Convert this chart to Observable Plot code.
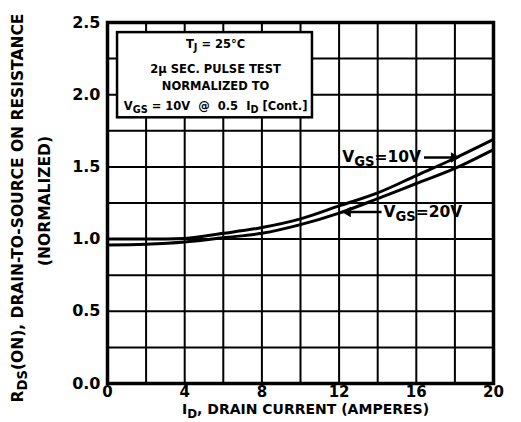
<!DOCTYPE html>
<html><head><meta charset="utf-8">
<script src="https://cdn.jsdelivr.net/npm/d3@7"></script>
<script src="https://cdn.jsdelivr.net/npm/@observablehq/plot@0.6"></script>
<style>
html,body{margin:0;padding:0;background:#fff;}
#chart svg{display:block;}
</style>
</head><body><div id="chart"></div>
<script>
// ---- data ----
const currents = [0, 2, 4, 6, 8, 10, 12, 14, 16, 18, 20];
const rdsVgs10 = [1.00, 1.00, 1.005, 1.04, 1.08, 1.14, 1.23, 1.32, 1.44, 1.56, 1.69];
const rdsVgs20 = [0.96, 0.965, 0.98, 1.01, 1.04, 1.10, 1.18, 1.28, 1.385, 1.49, 1.62];
const seriesLabels = ["V{GS}=10V", "V{GS}=20V"];
const xTicks = [0, 4, 8, 12, 16, 20];
const yTicks = [0, 0.5, 1.0, 1.5, 2.0, 2.5];
const xGrid = [0, 2, 4, 6, 8, 10, 12, 14, 16, 18, 20];
const yGrid = [0, 0.25, 0.5, 0.75, 1.0, 1.25, 1.5, 1.75, 2.0, 2.25, 2.5];
const boxLines = ["T{J} = 25°C", "2μ SEC. PULSE TEST", "NORMALIZED TO", "V{GS} = 10V  @  0.5  I{D} [Cont.]"];
const xTitle = "I{D}, DRAIN CURRENT (AMPERES)";
const yTitle = ["R{DS}(ON), DRAIN-TO-SOURCE ON RESISTANCE", "(NORMALIZED)"];

// ---- annotation anchors (data units) ----
const box = {x1: 0.52, x2: 10.62, y1: 1.84, y2: 2.43};
const boxTextX = 5.6;
const boxTextY = [2.35, 2.175, 2.055, 1.92];
const label10 = {x: 16.25, y: 1.565};
const label20 = {x: 14.3, y: 1.19};
const arrows = [
  {x1: 16.4, x2: 17.95, y1: 1.565, y2: 1.565, dir: 1},
  {x1: 14.2, x2: 12.45, y1: 1.187, y2: 1.187, dir: -1}
];

const rows = [
  ...currents.map((c, i) => ({x: c, y: rdsVgs10[i], s: seriesLabels[0]})),
  ...currents.map((c, i) => ({x: c, y: rdsVgs20[i], s: seriesLabels[1]}))
];

const F = "DejaVu Sans, Liberation Sans, Arial, sans-serif";

const chart = Plot.plot({
  width: 521, height: 422,
  marginLeft: 107, marginRight: 28, marginTop: 22, marginBottom: 39,
  style: {fontFamily: F, fontWeight: "bold", background: "white", color: "black", overflow: "visible"},
  x: {domain: [0, 20]},
  y: {domain: [0, 2.5]},
  marks: [
    Plot.gridX(xGrid, {stroke: "black", strokeOpacity: 1, strokeWidth: 2}),
    Plot.gridY(yGrid, {stroke: "black", strokeOpacity: 1, strokeWidth: 2}),
    Plot.frame({stroke: "black", strokeWidth: 3.5}),
    Plot.axisX(xTicks, {tickSize: 0, tickPadding: 3, fontSize: 15, fontWeight: "bold", label: null, tickFormat: d3.format("d")}),
    Plot.axisY(yTicks, {tickSize: 0, tickPadding: 7, fontSize: 16, fontWeight: "bold", label: null, tickFormat: d3.format(".1f")}),
    Plot.line(rows, {x: "x", y: "y", z: "s", stroke: "black", strokeWidth: 3, curve: "monotone-x"}),
    Plot.rect([box], {x1: "x1", x2: "x2", y1: "y1", y2: "y2", fill: "white", stroke: "black", strokeWidth: 2.5}),
    Plot.text(boxLines, {x: () => boxTextX, y: (d, i) => boxTextY[i], text: d => d, fontSize: 11.5, fontWeight: "bold"}),
    Plot.link(arrows, {x1: "x1", x2: "x2", y1: "y1", y2: "y2", stroke: "black", strokeWidth: 2.5}),
    Plot.dot(arrows, {x: "x2", y: "y2", symbol: "triangle2", r: 5, fill: "black", stroke: "none",
      rotate: d => d.dir * 90}),
    Plot.text([seriesLabels[0]], {x: () => label10.x, y: () => label10.y, text: d => d,
      textAnchor: "end", fontSize: 15.5, fontWeight: "bold"}),
    Plot.text([seriesLabels[1]], {x: () => label20.x, y: () => label20.y, text: d => d,
      textAnchor: "start", fontSize: 15.5, fontWeight: "bold"}),
    Plot.text([xTitle], {frameAnchor: "bottom", lineAnchor: "top", dy: 21, dx: 5, text: d => d, fontSize: 14, fontWeight: "bold"}),
    Plot.text([yTitle[0]], {frameAnchor: "left", textAnchor: "middle", rotate: -90, dx: -89, dy: 5, text: d => d, fontSize: 15.5, fontWeight: "bold"}),
    Plot.text([yTitle[1]], {frameAnchor: "left", textAnchor: "middle", rotate: -90, dx: -62, dy: -2, text: d => d, fontSize: 15.5, fontWeight: "bold"})
  ]
});

// subscripts: {..} -> lowered tspan
chart.querySelectorAll("text").forEach(t => {
  const s = t.textContent;
  if (!s.includes("{")) return;
  const parts = s.split(/(\{[^}]*\})/).filter(p => p.length);
  t.textContent = "";
  let lowered = false;
  for (const p of parts) {
    const ts = document.createElementNS("http://www.w3.org/2000/svg", "tspan");
    if (p.startsWith("{")) {
      ts.textContent = p.slice(1, -1);
      ts.setAttribute("font-size", "0.85em");
      ts.setAttribute("dy", "0.3em");
      lowered = true;
    } else {
      ts.textContent = p;
      if (lowered) { ts.setAttribute("dy", "-0.255em"); lowered = false; }
    }
    t.appendChild(ts);
  }
});

document.getElementById("chart").appendChild(chart);
</script>
</body></html>
